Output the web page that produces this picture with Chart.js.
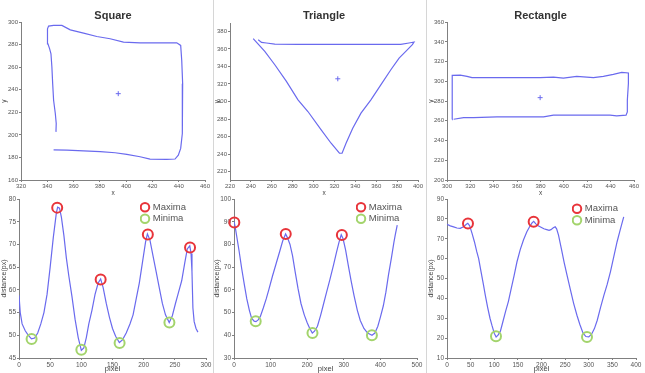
<!DOCTYPE html>
<html>
<head>
<meta charset="utf-8">
<script src="https://cdn.jsdelivr.net/npm/chart.js@4/dist/chart.umd.min.js"></script>
<style>
  body { margin: 0; background: #fff; }
  #lienzo { position: relative; width: 645px; height: 373px; overflow: hidden; background: #fff; }
  #lienzo canvas { position: absolute; }
  .sep { position: absolute; top: 0; width: 1px; height: 373px; background: #d6d6d6; }
</style>
</head>
<body>
<div id="lienzo">
  <div class="sep" style="left:213px"></div>
  <div class="sep" style="left:426px"></div>
  <canvas id="g1" style="left:0px;top:0px" width="213" height="197"></canvas>
  <canvas id="g2" style="left:213px;top:0px" width="214" height="197"></canvas>
  <canvas id="g3" style="left:427px;top:0px" width="218" height="197"></canvas>
  <canvas id="g4" style="left:0px;top:190px" width="213" height="183"></canvas>
  <canvas id="g5" style="left:213px;top:190px" width="214" height="183"></canvas>
  <canvas id="g6" style="left:427px;top:190px" width="218" height="183"></canvas>
</div>
<script>
// ------------- Datos -------------

const titulos = ['Square', 'Triangle', 'Rectangle'];
const etiquetasLeyenda = ['Maxima', 'Minima'];

// Contornos (x, y)
const cuadradoX = [346.6,346.8,346.1,344.8,344.1,343.5,342.8,341.8,340.5,340.3,340.0,341.0,344.8,351.1,357.5,367.6,377.7,387.8,398.0,410.6,425.8,438.5,441.5,442.3,443.0,443.0,442.5,441.5,439.7,437.2,430.9,418.2,410.6,400.5,391.6,380.3,367.6,354.9,344.8];
const cuadradoY = [202.7,210.1,219.0,230.7,245.5,260.2,272.0,276.4,280.8,289.7,294.1,296.5,297.1,297.1,293.2,290.3,287.3,285.3,282.3,281.7,281.7,281.7,279.4,266.1,245.5,224.8,201.3,188.0,182.1,178.6,178.3,178.6,180.6,182.7,184.2,185.1,185.9,186.5,186.8];
const cuadradoCentro = [394, 236.6];

const trianguloX = [247.0,250.2,254.9,262.9,285.1,316.8,348.6,383.5,391.4,396.2,394.6,388.3,381.9,374.0,364.4,354.9,345.4,337.5,331.1,327.3,324.8,316.8,307.3,294.6,285.1,274.0,262.9,253.3,242.2];
const trianguloY = [370.5,367.4,366.7,365.5,365.1,365.1,365.1,365.1,366.7,367.8,364.8,357.1,349.5,336.2,319.0,301.9,286.7,269.5,252.4,241.0,241.0,252.4,267.6,288.6,301.9,322.9,341.9,357.1,371.6];
const trianguloCentro = [323.2, 325.9];

const rectanguloX = [304.3,304.3,304.3,304.8,311.4,317.1,321.4,342.7,365.5,379.7,391.1,399.6,411.0,425.3,433.8,442.3,449.5,455.2,455.2,454.3,454.3,453.2,445.2,439.5,419.6,399.6,391.1,382.6,371.2,359.8,342.7,322.8,314.2,305.7];
const rectanguloY = [261.3,280.8,301.1,306.1,306.4,305.1,303.8,303.8,303.8,303.8,304.4,303.4,305.1,303.8,305.1,307.1,309.1,308.5,297.7,280.8,269.1,265.7,265.0,265.7,265.7,265.7,265.7,264.0,264.0,264.0,264.0,263.3,263.3,261.6];
const rectanguloCentro = [379.7, 283.5];

// Distancias al centro (pixel, distance)
const distCuadX = [0,2,5,10,15,20,25,30,35,40,45,50,55,60,62,65,68,72,76,80,85,90,95,100,104,108,112,117,122,127,131,135,140,145,150,155,161,166,172,178,183,188,193,198,203,206,210,215,220,225,230,235,241,246,251,256,261,266,270,274,276,277.5,279,281,284,287];
const distCuadY = [58.8,55,52.5,51,50,49.2,49.4,50.5,52.5,55,59,65,71.5,77,78.2,78,76,72,67,63,58.5,53.5,49.5,46.7,47.2,49.5,52.5,55.5,59,61.5,62.4,60.5,57,54,51.5,49.8,48.4,49,50.5,52.5,54.5,58,61.5,66,70.5,72.3,71,67.5,64,60.5,57,54.5,52.8,54.3,57,59.5,62,66,69,69.7,68,64,56,53,51.5,50.7];
const maxCuadX = [61.3, 131, 206.7, 274.4];
const maxCuadY = [78.1, 62.3, 72.2, 69.3];
const minCuadX = [20.2, 100, 161.4, 241.3];
const minCuadY = [49.2, 46.8, 48.3, 52.8];

const distTriX = [0,3,7,14,21,28,35,42,48,55,60,66,72,80,88,95,105,115,125,133,141,146,153,160,167,175,183,192,200,207,214,220,228,237,245,253,262,272,280,287,293,298,305,312,320,328,337,345,355,365,377,385,393,400,408,415,422,430,437,441,446];
const distTriY = [90,88,84,77,69.4,62.5,56,51,47.5,46.2,46,46.8,48.3,52,56,60,66,71.5,77,81.5,84.6,83,80,75,68,60.5,54,49,45.5,43,41,41.8,44,49,54,59,64.5,71,76.5,81,84.3,82.5,77.5,71,64,57.5,51,46.5,43,41,40,41,44,48,53,59,66.5,74,81,84.5,88.5];
const maxTriX = [0.9, 141.4, 294.7];
const maxTriY = [89.7, 84.6, 84.1];
const minTriX = [59.3, 214.4, 376.8];
const minTriY = [46.2, 41, 40];

const distRecX = [0,7,14,21,28,35,41,44,48,53,58,63,67,72,77,81,86,91,95,100,104,108,113,118,124,130,136,142,148,155,162,169,176,180,183.5,188,193,199,205,211,216,220,225,229,232,236,242,248,254,261,268,275,281,288,294,300,306,312,318,325,332,339,346,353,360,366,374];
const distRecY = [77.3,76.5,76,75.4,75.2,76,77.3,77.8,76.5,72.7,68.5,63.5,60,53.5,47,41.6,35.5,30,26.5,22.5,20.6,21.5,23.5,28,33.5,38.5,45,51.5,58.3,64.5,69.5,73.5,76.5,78,78.8,77.5,76.5,75.8,75,74.6,74.2,74.6,75.5,76,75,71.8,65,58,51.7,44.5,37.5,31.5,27,22.5,20.8,20.6,22,24.8,29,35.5,41.5,47,53.5,61,68.5,74,81];
const maxRecX = [44.4, 183.4];
const maxRecY = [77.7, 78.6];
const minRecX = [103.7, 296.3];
const minRecY = [21, 20.6];

// Marcas de los ejes
const ticksCuadX = [320,340,360,380,400,420,440,460];
const ticksCuadY = [160,180,200,220,240,260,280,300];
const ticksTriX = [220,240,260,280,300,320,340,360,380,400];
const ticksTriY = [220,240,260,280,300,320,340,360,380];
const ticksRecX = [300,320,340,360,380,400,420,440,460];
const ticksRecY = [200,220,240,260,280,300,320,340,360];
const ticksDistCuadX = [0,50,100,150,200,250,300];
const ticksDistCuadY = [45,50,55,60,65,70,75,80];
const ticksDistTriX = [0,100,200,300,400,500];
const ticksDistTriY = [30,40,50,60,70,80,90,100];
const ticksDistRecX = [0,50,100,150,200,250,300,350,400];
const ticksDistRecY = [10,20,30,40,50,60,70,80,90];

// Rangos [min, max]
const rangoTriY = [210.5, 389.5];

// ------------- Estilos -------------
const fuente = '"Liberation Sans", Arial, sans-serif';
const azul = '#6a6aee';
const rojo = '#e8343a';
const verde = '#a3d46c';

Chart.defaults.font.family = fuente;

const puntos = (xs, ys) => xs.map((x, i) => ({ x: x, y: ys[i] }));

function ejeX(marcas, min, max, alto, texto, tamTick, tamTitulo) {
  return {
    type: 'linear', position: 'bottom', min: min, max: max,
    afterBuildTicks: (s) => { s.ticks = marcas.map(v => ({ value: v })); },
    afterFit: (s) => { s.height = alto; },
    grid: { drawOnChartArea: false, tickLength: 2, color: '#808080' },
    border: { color: '#808080' },
    ticks: { autoSkip: false, maxRotation: 0, padding: 1, color: '#555', font: { size: tamTick } },
    title: { display: true, text: texto, color: '#444', padding: 0, font: { size: tamTitulo } }
  };
}

function ejeY(marcas, min, max, ancho, texto, tamTick, tamTitulo) {
  return {
    type: 'linear', position: 'left', min: min, max: max,
    afterBuildTicks: (s) => { s.ticks = marcas.map(v => ({ value: v })); },
    afterFit: (s) => { s.width = ancho; },
    grid: { drawOnChartArea: false, tickLength: 2, color: '#808080' },
    border: { color: '#808080' },
    ticks: { autoSkip: false, padding: 1, color: '#555', font: { size: tamTick } },
    title: { display: true, text: texto, color: '#444', padding: 0, font: { size: tamTitulo } }
  };
}

// Mueve la leyenda dentro del area del grafico (arriba a la derecha)
const moverLeyenda = {
  id: 'moverLeyenda',
  afterLayout(chart, args, opts) {
    const ley = chart.legend;
    const area = chart.chartArea;
    if (!ley) return;
    ley.left = area.left + opts.dx;
    ley.top = area.top + opts.dy;
    ley.right = area.right;
    ley.bottom = area.bottom;
  }
};

// Grafica de contorno (fila de arriba)
function graficaForma(id, titulo, xs, ys, centro, marcasX, marcasY, rangoY, anchoY, padDer, padTitulo) {
  new Chart(document.getElementById(id), {
    type: 'scatter',
    data: {
      datasets: [
        { data: puntos(xs, ys), showLine: true, borderColor: azul, borderWidth: 1.2, pointRadius: 0, tension: 0 },
        { data: [{ x: centro[0], y: centro[1] }], pointStyle: 'cross', pointRadius: 2.5, borderColor: azul, pointBorderWidth: 1 }
      ]
    },
    options: {
      responsive: false, animation: false, events: [],
      layout: { padding: { left: 0, top: 0, right: padDer, bottom: 0 } },
      plugins: {
        legend: { display: false },
        tooltip: { enabled: false },
        title: {
          display: true, text: titulo, fullSize: false, color: '#333',
          font: { size: 11, weight: 'bold' }, padding: { top: padTitulo[0], bottom: padTitulo[1] }
        }
      },
      scales: {
        x: ejeX(marcasX, marcasX[0], marcasX[marcasX.length - 1], 17, 'x', 6, 6.5),
        y: ejeY(marcasY, rangoY[0], rangoY[1], anchoY, 'y', 6, 6.5)
      }
    }
  });
}

// Grafica de distancias (fila de abajo)
function graficaDistancia(id, xs, ys, maxX, maxY, minX, minY, marcasX, marcasY, anchoY, padDer, posLeyenda) {
  new Chart(document.getElementById(id), {
    type: 'scatter',
    data: {
      datasets: [
        { label: etiquetasLeyenda[0], data: puntos(maxX, maxY), pointStyle: 'circle', pointRadius: 5, borderWidth: 2,
          pointBorderWidth: 2, borderColor: rojo, backgroundColor: 'rgba(0,0,0,0)', clip: false },
        { label: etiquetasLeyenda[1], data: puntos(minX, minY), pointStyle: 'circle', pointRadius: 5, borderWidth: 2,
          pointBorderWidth: 2, borderColor: verde, backgroundColor: 'rgba(0,0,0,0)', clip: false },
        { label: '', data: puntos(xs, ys), showLine: true, borderColor: azul, borderWidth: 1.2, pointRadius: 0, tension: 0 }
      ]
    },
    plugins: [moverLeyenda],
    options: {
      responsive: false, animation: false, events: [],
      layout: { padding: { left: 0, top: 9, right: padDer, bottom: 0 } },
      plugins: {
        tooltip: { enabled: false },
        legend: {
          display: true, position: 'chartArea', align: 'start',
          labels: {
            usePointStyle: true, boxWidth: 6, boxHeight: 6, padding: 2, color: '#555',
            font: { size: 9.5 }, filter: (item) => item.text !== ''
          }
        },
        moverLeyenda: { dx: posLeyenda[0], dy: posLeyenda[1] }
      },
      scales: {
        x: ejeX(marcasX, marcasX[0], marcasX[marcasX.length - 1], 15, 'pixel', 6.5, 7.5),
        y: ejeY(marcasY, marcasY[0], marcasY[marcasY.length - 1], anchoY, 'distance(px)', 6.5, 7)
      }
    }
  });
}

// ------------- Crear las graficas -------------
graficaForma('g1', titulos[0], cuadradoX, cuadradoY, cuadradoCentro, ticksCuadX, ticksCuadY,
  [ticksCuadY[0], ticksCuadY[ticksCuadY.length - 1]], 21, 8, [9, 0]);
graficaForma('g2', titulos[1], trianguloX, trianguloY, trianguloCentro, ticksTriX, ticksTriY,
  rangoTriY, 17, 9, [9, 0.8]);
graficaForma('g3', titulos[2], rectanguloX, rectanguloY, rectanguloCentro, ticksRecX, ticksRecY,
  [ticksRecY[0], ticksRecY[ticksRecY.length - 1]], 20, 11, [9, 0]);

graficaDistancia('g4', distCuadX, distCuadY, maxCuadX, maxCuadY, minCuadX, minCuadY,
  ticksDistCuadX, ticksDistCuadY, 19, 6, [121, 1.5]);
graficaDistancia('g5', distTriX, distTriY, maxTriX, maxTriY, minTriX, minTriY,
  ticksDistTriX, ticksDistTriY, 21, 10, [122, 1.5]);
graficaDistancia('g6', distRecX, distRecY, maxRecX, maxRecY, minRecX, minRecY,
  ticksDistRecX, ticksDistRecY, 20, 9, [125, 3]);
</script>
</body>
</html>
